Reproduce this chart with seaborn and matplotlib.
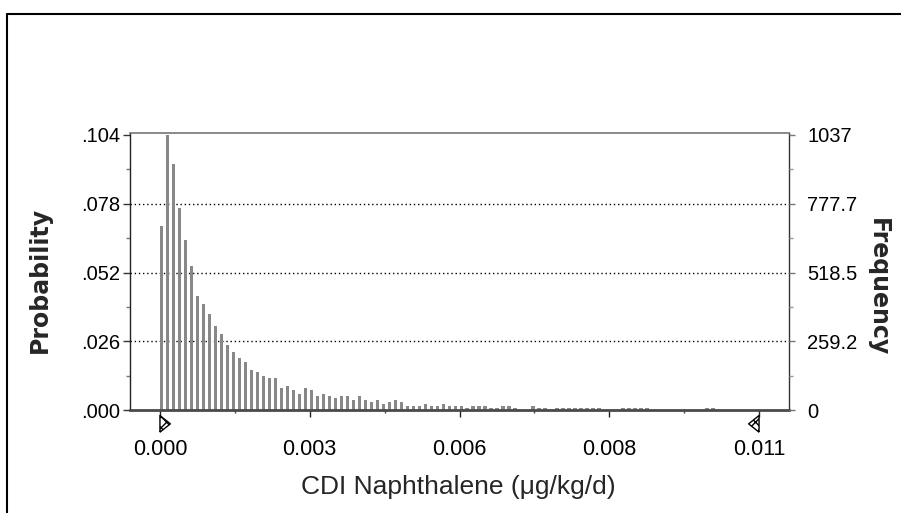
import numpy as np
import pandas as pd
import matplotlib
matplotlib.use("Agg")
import matplotlib.pyplot as plt
import matplotlib.transforms as mtransforms
from matplotlib.lines import Line2D
import seaborn as sns

# Forecast histogram: 10,000 trials, 100 bins over the display range
trials = 10000
range_min = 0.0
range_max = 0.011
n_bins = 100

frequency = [
    694, 1037, 928, 762, 641, 543, 430, 400, 362, 317,
    285, 246, 217, 195, 180, 151, 142, 127, 119, 119,
    83, 89, 74, 60, 83, 74, 52, 60, 52, 44,
    53, 53, 38, 53, 38, 30, 38, 23, 30, 38,
    30, 15, 15, 15, 23, 15, 15, 23, 15, 15,
    15, 8, 15, 15, 15, 8, 8, 15, 15, 8,
    0, 0, 15, 8, 8, 0, 8, 8, 8, 8,
    8, 8, 8, 8, 0, 0, 0, 8, 8, 8,
    8, 8, 0, 0, 0, 0, 0, 0, 0, 0,
    0, 8, 8, 0, 0, 0, 0, 0, 0, 0,
]

freq_ticks = [0, 259.25, 518.5, 777.75, 1037]
freq_tick_labels = ["0", "259.2", "518.5", "777.7", "1037"]
prob_tick_labels = [".000", ".026", ".052", ".078", ".104"]
x_ticks = [0.0, 0.00275, 0.0055, 0.00825, 0.011]
x_tick_labels = ["0.000", "0.003", "0.006", "0.008", "0.011"]

bin_width = (range_max - range_min) / n_bins
bar_frac = 0.58
bin_left = range_min + np.arange(n_bins) * bin_width
df = pd.DataFrame({"x": bin_left + bar_frac * bin_width / 2, "freq": frequency})

sns.set_theme(style="white")
plt.rcParams["font.family"] = ["Liberation Sans", "DejaVu Sans"]

fig = plt.figure(figsize=(9.01, 5.13), dpi=100)
ax = fig.add_axes([130 / 901, 103 / 513, 659 / 901, 277 / 513])

sns.barplot(data=df, x="x", y="freq", native_scale=True, width=bar_frac,
            color="#888888", saturation=1, edgecolor="none", ax=ax, zorder=3)

span = range_max - range_min
ax.set_xlim(range_min - 0.05 * span, range_max + 0.05 * span)
ax.set_ylim(0, freq_ticks[-1] * 277 / 275)

# dotted reference lines
for v in freq_ticks[1:-1]:
    ax.axhline(v, color="black", lw=1.0, ls=(0, (1, 2)), zorder=1)

# left axis: probability labels
ax.set_yticks(freq_ticks)
ax.set_yticklabels(prob_tick_labels)
ax.set_yticks([(a + b) / 2 for a, b in zip(freq_ticks[:-1], freq_ticks[1:])], minor=True)
ax.tick_params(axis="y", which="major", left=True, length=5, width=1, color="#333333",
               labelsize=14.5, pad=2, labelcolor="black")
ax.tick_params(axis="y", which="minor", left=True, length=3, width=1, color="#777777")

# bottom axis
ax.set_xticks(x_ticks)
ax.set_xticklabels(x_tick_labels)
ax.set_xticks([(a + b) / 2 for a, b in zip(x_ticks[:-1], x_ticks[1:])], minor=True)
ax.tick_params(axis="x", which="major", bottom=True, length=5, width=1, color="#222222",
               labelsize=15.5, pad=16, labelcolor="black")
ax.tick_params(axis="x", which="minor", bottom=True, length=2, width=1, color="#444444")
ax.set_xlabel("")
ax.set_ylabel("")

# right axis: frequency labels
ax2 = ax.twinx()
ax2.set_ylim(ax.get_ylim())
ax2.set_yticks(freq_ticks)
ax2.set_yticklabels(freq_tick_labels)
ax2.set_yticks([(a + b) / 2 for a, b in zip(freq_ticks[:-1], freq_ticks[1:])], minor=True)
ax2.tick_params(axis="y", which="major", right=True, length=4, width=1, color="#777777",
                labelsize=14.5, pad=9, labelcolor="black")
ax2.tick_params(axis="y", which="minor", right=True, length=3, width=1, color="#999999")
ax2.grid(False)
ax.grid(False)

for sp in ("top", "right", "left", "bottom"):
    ax2.spines[sp].set_visible(False)
ax.spines["left"].set_color("#222222")
ax.spines["left"].set_linewidth(1.0)
ax.spines["top"].set_color("#777777")
ax.spines["top"].set_linewidth(1.2)
ax.spines["right"].set_color("#333333")
ax.spines["right"].set_linewidth(1.0)
ax.spines["bottom"].set_color("#4a4a4a")
ax.spines["bottom"].set_linewidth(2.0)
for sp in ax.spines.values():
    sp.set_zorder(4)

# certainty range grabbers at the display range ends
trans = mtransforms.blended_transform_factory(ax.transData, ax.transAxes)
right_tri = [(0, -0.8), (0, 0.8), (1, 0), (0, -0.8)]
left_tri = [(0, -0.8), (0, 0.8), (-1, 0), (0, -0.8)]
for xv, verts in ((range_min, right_tri), (range_max, left_tri)):
    ax.scatter([xv], [-0.05], marker=verts, s=15 ** 2, transform=trans,
               facecolor="white", edgecolor="black", hatch="xxx", linewidth=1.0,
               clip_on=False, zorder=5)

fig.text(40 / 901, 1 - 280 / 513, "Probability", rotation=90, ha="center", va="center",
         fontsize=17, fontweight="bold", family=["DejaVu Sans"])
fig.text(878 / 901, 1 - 287 / 513, "Frequency", rotation=270, ha="center", va="center",
         fontsize=17, fontweight="bold", family=["DejaVu Sans"])
fig.text(458 / 901, 1 - 487 / 513, "CDI Naphthalene (\u03bcg/kg/d)", ha="center", va="center",
         fontsize=19)

# outer frame
fig.add_artist(Line2D([7 / 901, 1.0], [1 - 14 / 513, 1 - 14 / 513], color="black", lw=1.5,
                      transform=fig.transFigure))
fig.add_artist(Line2D([7 / 901, 7 / 901], [1 - 14 / 513, 0.0], color="black", lw=1.5,
                      transform=fig.transFigure))

fig.savefig("out.png", dpi=100)
